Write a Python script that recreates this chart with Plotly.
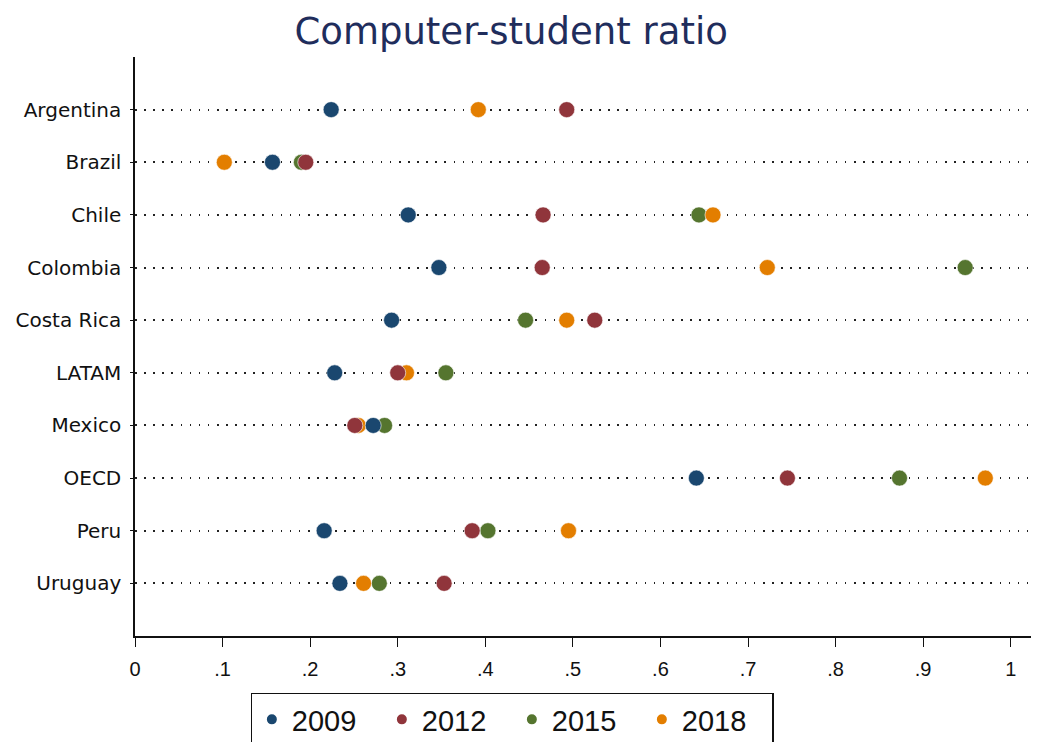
import plotly.graph_objects as go

countries = ["Argentina", "Brazil", "Chile", "Colombia", "Costa Rica",
             "LATAM", "Mexico", "OECD", "Peru", "Uruguay"]
years = ["2009", "2012", "2015", "2018"]
v2009 = [0.224, 0.157, 0.312, 0.347, 0.293, 0.228, 0.272, 0.641, 0.216, 0.234]
v2012 = [0.493, 0.195, 0.466, 0.465, 0.525, 0.300, 0.251, 0.745, 0.385, 0.353]
v2015 = [None, 0.190, 0.644, 0.948, 0.446, 0.355, 0.285, 0.873, 0.403, 0.279]
v2018 = [0.392, 0.102, 0.660, 0.722, 0.493, 0.310, 0.255, 0.971, 0.495, 0.261]
colors = {"2009": "#1a476f", "2012": "#90353b", "2015": "#55752f", "2018": "#e37e00"}
values = {"2009": v2009, "2012": v2012, "2015": v2015, "2018": v2018}
xticks = [0, 0.1, 0.2, 0.3, 0.4, 0.5, 0.6, 0.7, 0.8, 0.9, 1]
xticktext = ["0", ".1", ".2", ".3", ".4", ".5", ".6", ".7", ".8", ".9", "1"]

FONT = "DejaVu Sans"
FONT2 = "Liberation Sans"
fig = go.Figure()
draw_order = ["2015", "2018", "2012", "2009"]
rank = {"2009": 1, "2012": 2, "2015": 3, "2018": 4}
for yr in draw_order:
    fig.add_trace(go.Scatter(
        x=values[yr], y=countries, mode="markers", name=yr,
        legendrank=rank[yr],
        marker=dict(size=16, color=colors[yr], line=dict(width=0.6, color="white")),
    ))

# page body has an 8px margin, so the figure is sized to fit the window
fig.update_layout(
    width=1031, height=734,
    margin=dict(l=127, r=2, t=49, b=106),
    paper_bgcolor="white", plot_bgcolor="white",
    title=dict(text="Computer-student ratio", x=0.488, xanchor="center",
               xref="container", y=0.969, yanchor="middle", yref="container",
               font=dict(family=FONT, size=37, color="#1f2d5c")),
    font=dict(family=FONT, color="#111111"),
    showlegend=True,
    legend=dict(orientation="h", xref="container", yref="container",
                x=0.489, xanchor="center", y=0.067, yanchor="top",
                bordercolor="#111111", borderwidth=1.2, bgcolor="white",
                font=dict(family=FONT2, size=29, color="#111111"),
                itemsizing="constant", entrywidth=85, traceorder="normal"),
)
fig.update_xaxes(range=[0, 1.03], tickvals=xticks, ticktext=xticktext,
                 showgrid=False, zeroline=False, showline=True,
                 linecolor="#111111", linewidth=1.5, ticks="outside",
                 ticklen=9, tickcolor="#111111", tickwidth=1.2,
                 ticklabelstandoff=5,
                 tickfont=dict(family=FONT2, size=20, color="#111111"),
                 fixedrange=True)
fig.update_yaxes(categoryorder="array", categoryarray=countries,
                 range=[10, -1], showgrid=True, gridcolor="#222222",
                 gridwidth=1.6, griddash="1.6px,7.5px", zeroline=False,
                 showline=True, linecolor="#111111", linewidth=1.5,
                 ticks="outside", ticklen=3, tickcolor="#111111",
                 ticklabelstandoff=5,
                 tickfont=dict(family=FONT, size=20, color="#111111"),
                 fixedrange=True)

fig.write_html("out.html")
